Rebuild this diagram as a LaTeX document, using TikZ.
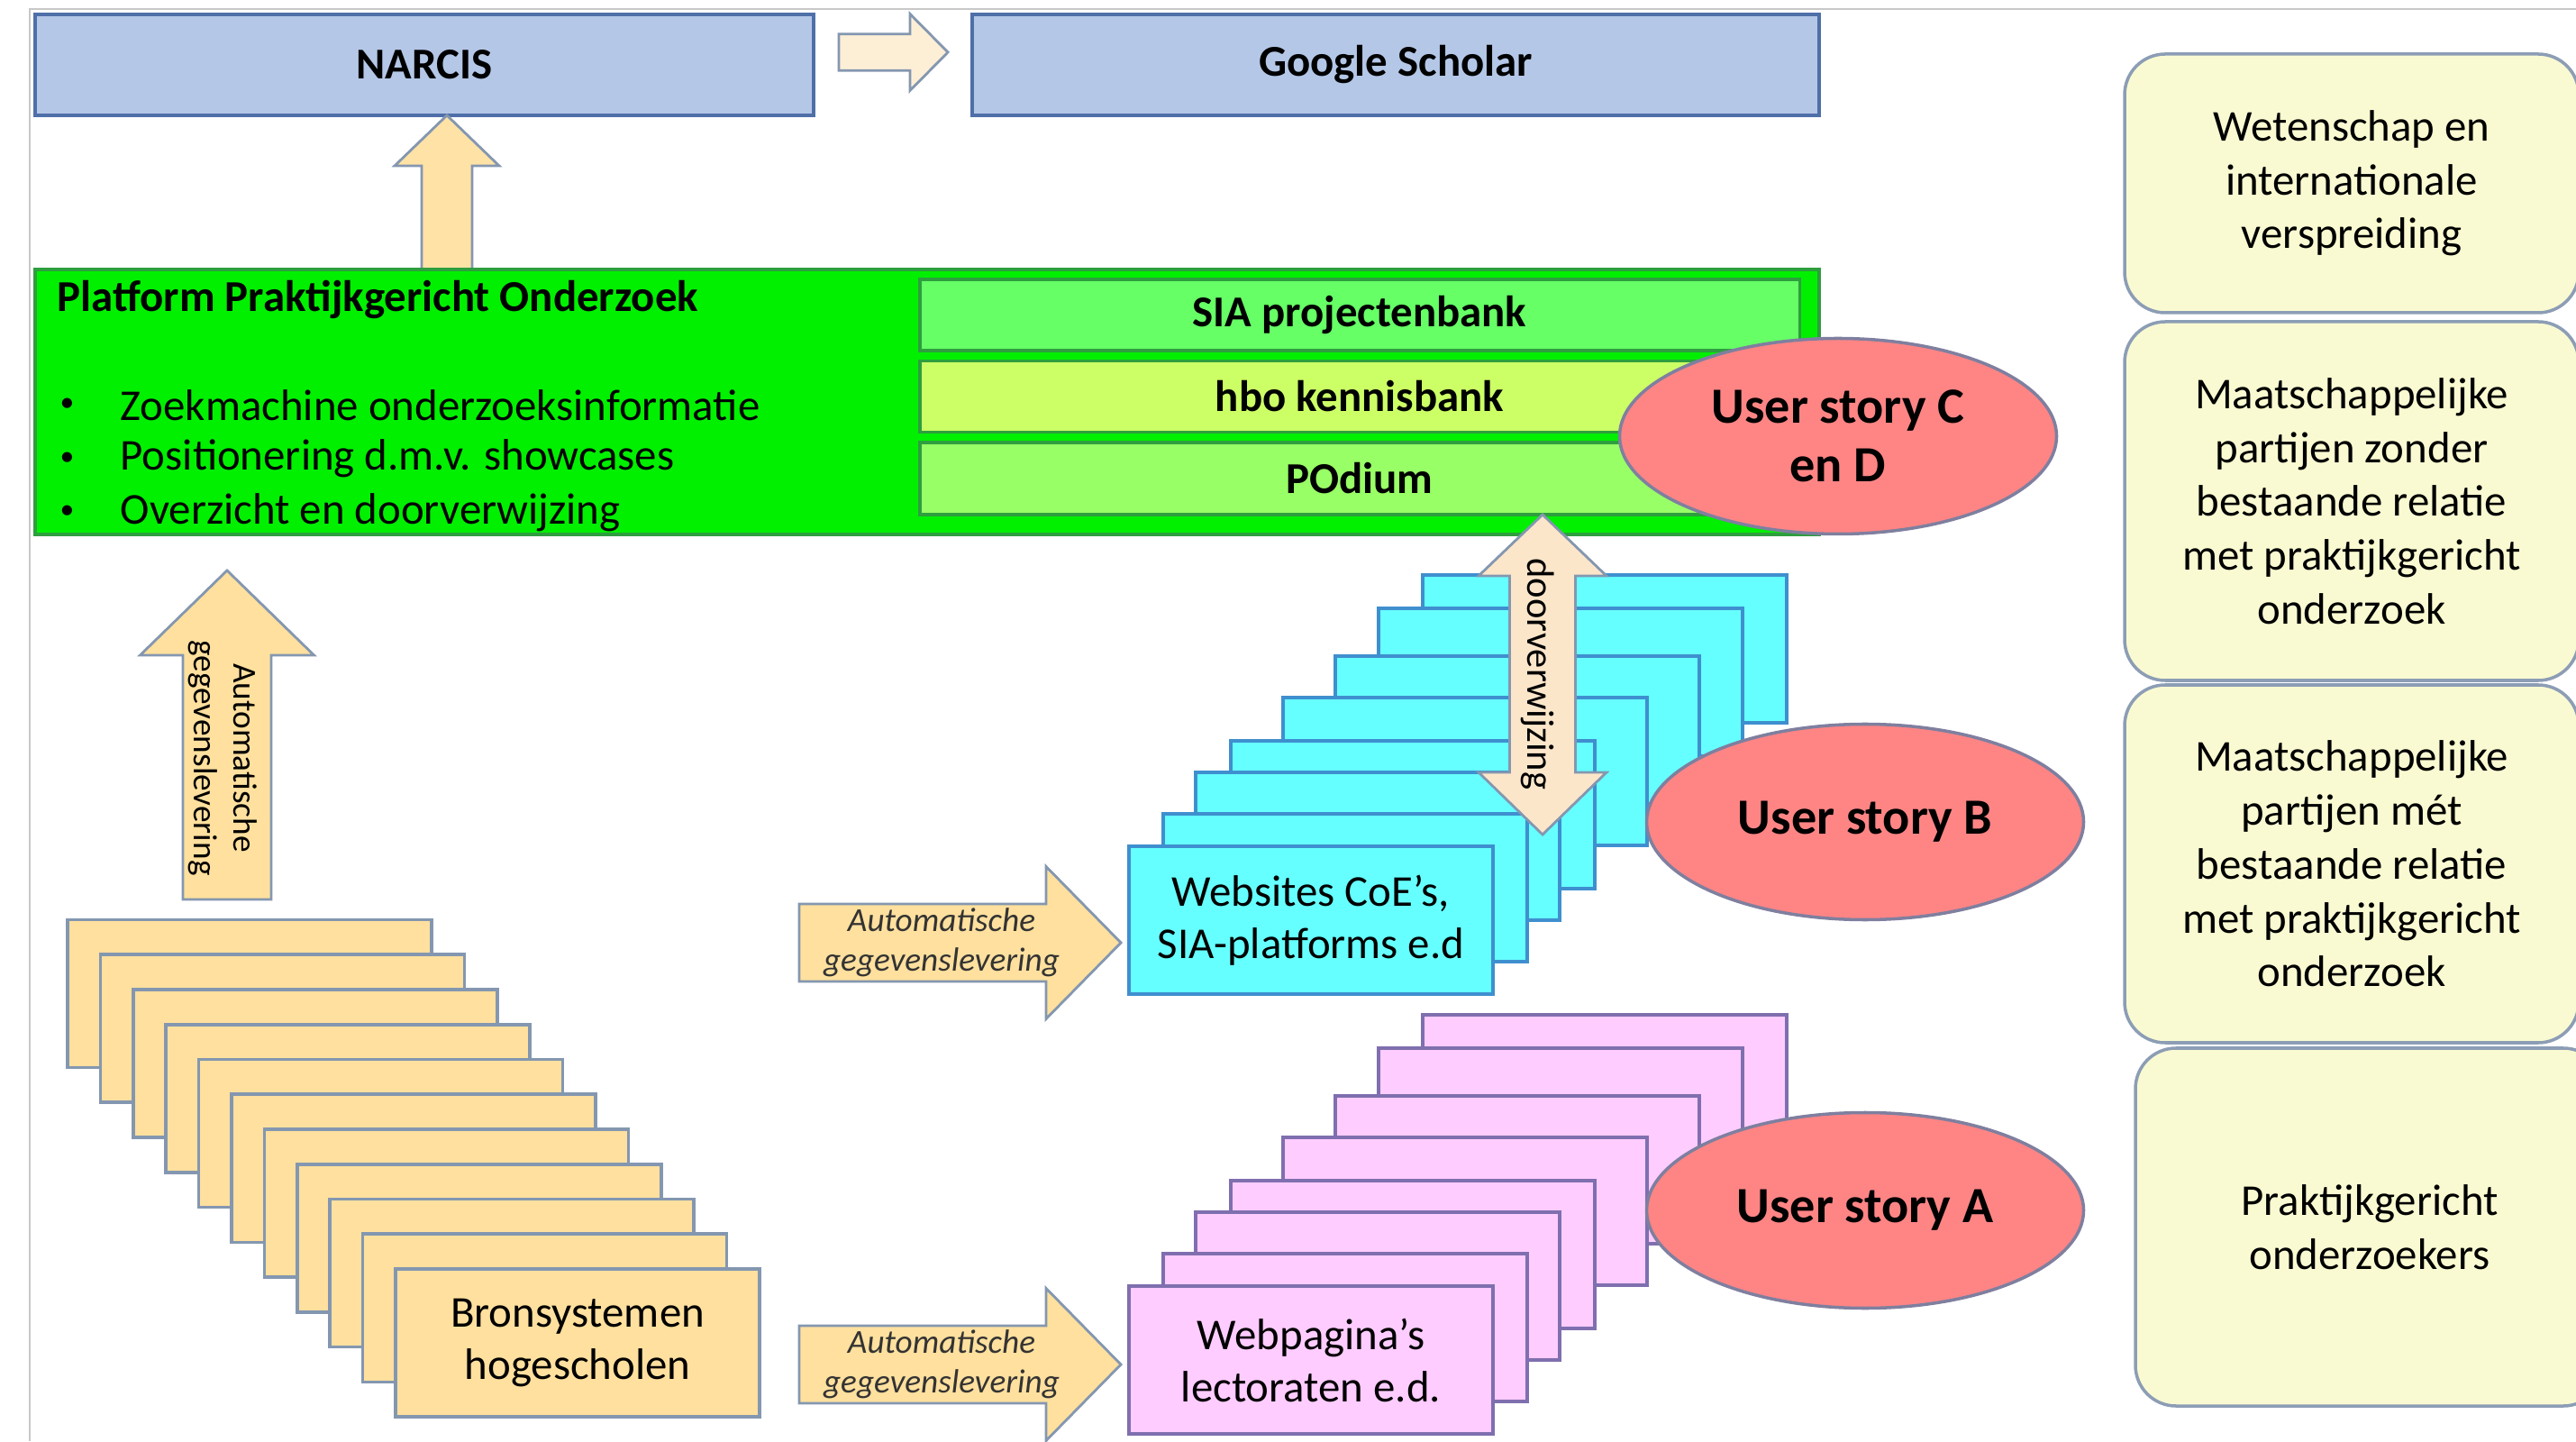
\documentclass[tikz,border=0pt]{standalone}
\usepackage{fontspec}
\setmainfont{Carlito}
\usetikzlibrary{calc}
\usetikzlibrary{positioning}
\usetikzlibrary{shapes.geometric}

\definecolor{framegray}{HTML}{C8C8C8}
\definecolor{barfill}{HTML}{B4C7E7}
\definecolor{barline}{HTML}{4F6FA8}
\definecolor{platfill}{HTML}{00F000}
\definecolor{platline}{HTML}{2E9E3E}
\definecolor{siafill}{HTML}{66FF66}
\definecolor{hbofill}{HTML}{CCFF66}
\definecolor{podfill}{HTML}{99FF66}
\definecolor{storyfill}{HTML}{FF8585}
\definecolor{storyline}{HTML}{7F7F9F}
\definecolor{cyanfill}{HTML}{66FFFF}
\definecolor{cyanline}{HTML}{3F8FCF}
\definecolor{pinkfill}{HTML}{FFCCFF}
\definecolor{pinkline}{HTML}{7F6FAF}
\definecolor{srcfill}{HTML}{FFE09E}
\definecolor{arrowline}{HTML}{8497B0}
\definecolor{creamfill}{HTML}{FDEFD6}
\definecolor{peachfill}{HTML}{FFE2A6}
\definecolor{doorfill}{HTML}{FCE6CA}
\definecolor{targetfill}{HTML}{FAFAD2}
\definecolor{targetline}{HTML}{8C9DB5}

\begin{document}
\begin{tikzpicture}[
  topbar/.style={draw=barline, fill=barfill, line width=1pt, inner sep=0pt, minimum height=1.12cm, font=\fontsize{13.9}{16.5}\selectfont\bfseries},
  bankbar/.style={draw=platline, line width=1pt, inner sep=0pt, minimum width=9.765cm, minimum height=0.79cm, font=\fontsize{13.9}{16.5}\selectfont\bfseries},
  storyoval/.style={ellipse, draw=storyline, fill=storyfill, line width=1pt, inner sep=0pt, minimum width=4.85cm, minimum height=2.17cm, align=center, font=\fontsize{16}{18.5}\selectfont\bfseries},
  pagebox/.style={line width=1pt, inner sep=0pt, minimum width=4.04cm, minimum height=1.64cm, align=center, font=\fontsize{13.9}{16.5}\selectfont},
  cyanpage/.style={pagebox, draw=cyanline, fill=cyanfill},
  pinkpage/.style={pagebox, draw=pinkline, fill=pinkfill},
  srcpage/.style={pagebox, draw=arrowline, fill=srcfill},
  targetbox/.style={draw=targetline, fill=targetfill, line width=1pt, rounded corners=0.45cm, inner sep=0pt, align=center, font=\fontsize{13.9}{17}\selectfont},
  blockarrow/.style={draw=arrowline, line width=0.8pt, line join=miter},
  arrowtext/.style={align=center, font=\fontsize{10.6}{12.5}\selectfont},
  plattext/.style={anchor=west, inner sep=0pt, font=\fontsize{13.9}{16.5}\selectfont}
]

\useasboundingbox (0,0) rectangle (28.59,15.99);

\draw[framegray, line width=0.8pt] (0.33,0) -- (0.33,15.89) -- (28.59,15.89);

\node[topbar, minimum width=8.64cm] (narcis) at (4.71,15.27) {NARCIS};
\node[topbar, minimum width=9.40cm] (scholar) at (15.49,15.27) {Google Scholar};

\coordinate (rtip) at (10.52,15.41);
\draw[blockarrow, fill=creamfill] (rtip) -- ++(-0.42,0.425) -- ++(0,-0.2225) -- ++(-0.79,0) -- ++(0,-0.405) -- ++(0.79,0) -- ++(0,-0.2225) -- cycle;

\coordinate (uptip) at (4.96,14.71);
\draw[blockarrow, fill=peachfill] (uptip) -- ++(0.58,-0.56) -- ++(-0.30,0) -- ++(0,-1.15) -- ++(-0.56,0) -- ++(0,1.15) -- ++(-0.30,0) -- cycle;

\node[draw=platline, fill=platfill, line width=1pt, inner sep=0pt, minimum width=19.80cm, minimum height=2.94cm] (platform) at (10.29,11.53) {};
\node[plattext, font=\fontsize{13.9}{16.5}\selectfont\bfseries] (plattitle) at (0.63,12.67) {Platform Praktijkgericht Onderzoek};
\foreach \txt [count=\k] in {Zoekmachine onderzoeksinformatie, Positionering d.m.v. showcases, Overzicht en doorverwijzing} {
  \node[plattext, font=\fontsize{9}{10}\selectfont] (dot\k) at (0.66,{12.09-0.595*\k}) {•};
  \node[plattext] (item\k) at (1.33,{12.09-0.595*\k}) {\txt};
}

\node[bankbar, fill=siafill] (sia) at (15.09,12.495) {SIA projectenbank};
\node[bankbar, fill=hbofill, below=0.08cm of sia] (hbo) {hbo kennisbank};
\node[bankbar, fill=podfill, below=0.08cm of hbo, minimum height=0.80cm] (podium) {POdium};

\node[targetbox, minimum width=5.04cm, minimum height=2.87cm] (wetenschap) at (26.10,13.955) {Wetenschap en\\internationale\\verspreiding};
\node[targetbox, minimum width=5.04cm, minimum height=3.98cm] (zonder) at (26.10,10.43) {Maatschappelijke\\partijen zonder\\bestaande relatie\\met praktijkgericht\\onderzoek};
\node[targetbox, minimum width=5.04cm, minimum height=3.97cm] (met) at (26.10,6.405) {Maatschappelijke\\partijen mét\\bestaande relatie\\met praktijkgericht\\onderzoek};
\node[targetbox, minimum width=5.20cm, minimum height=3.97cm] (onderzoekers) at (26.30,2.375) {Praktijkgericht\\onderzoekers};

\foreach \i in {10,...,1}
  \node[srcpage] at ({6.41-0.364*\i},{1.09+0.3875*\i}) {};
\node[srcpage] (bron) at (6.41,1.09) {Bronsystemen\\hogescholen};

\coordinate (autotip) at (2.52,9.66);
\draw[blockarrow, fill=srcfill] (autotip) -- ++(0.965,-0.94) -- ++(-0.475,0) -- ++(0,-2.71) -- ++(-0.98,0) -- ++(0,2.71) -- ++(-0.475,0) -- cycle;
\node[arrowtext, rotate=-90] (autolabel) at (2.47,7.58) {Automatische\\gegevenslevering};

\foreach \yy/\nm in {5.53/webtip, 0.85/lectip} {
  \coordinate (\nm) at (12.44,\yy);
  \draw[blockarrow, fill=srcfill] (\nm) -- ++(-0.83,0.845) -- ++(0,-0.415) -- ++(-2.74,0) -- ++(0,-0.86) -- ++(2.74,0) -- ++(0,-0.415) -- cycle;
  \node[arrowtext, font=\fontsize{10.6}{12.5}\selectfont\itshape, text=black!80] at (10.45,\yy) {Automatische\\gegevenslevering};
}

\foreach \dx/\dy in {3.26/3.01, 2.77/2.64, 2.29/2.11, 1.71/1.65, 1.13/1.17, 0.74/0.82, 0.38/0.36}
  \node[cyanpage] at ({14.55+\dx},{5.78+\dy}) {};
\node[cyanpage] (websites) at (14.55,5.78) {Websites CoE’s,\\SIA-platforms e.d};

\foreach \dx/\dy in {3.26/3.01, 2.77/2.64, 2.29/2.11, 1.71/1.65, 1.13/1.17, 0.74/0.82, 0.38/0.36}
  \node[pinkpage] at ({14.55+\dx},{0.90+\dy}) {};
\node[pinkpage] (lectoraten) at (14.55,0.90) {Webpagina’s\\lectoraten e.d.};

\node[storyoval] (storycd) at (20.40,11.15) {User story C\\en D};
\node[storyoval] (storyb) at (20.70,6.87) {User story B};
\node[storyoval] (storya) at (20.70,2.56) {User story A};

\coordinate (doortip) at (17.12,10.28);
\draw[blockarrow, fill=doorfill] (doortip) -- ++(0.71,-0.68) -- ++(-0.345,0) -- ++(0,-2.18) -- ++(0.345,0) -- ++(-0.71,-0.69) -- ++(-0.71,0.69) -- ++(0.345,0) -- ++(0,2.18) -- ++(-0.345,0) -- cycle;
\node[rotate=-90, font=\fontsize{12.1}{14}\selectfont] (doorlabel) at (17.07,8.51) {doorverwijzing};

\end{tikzpicture}
\end{document}
